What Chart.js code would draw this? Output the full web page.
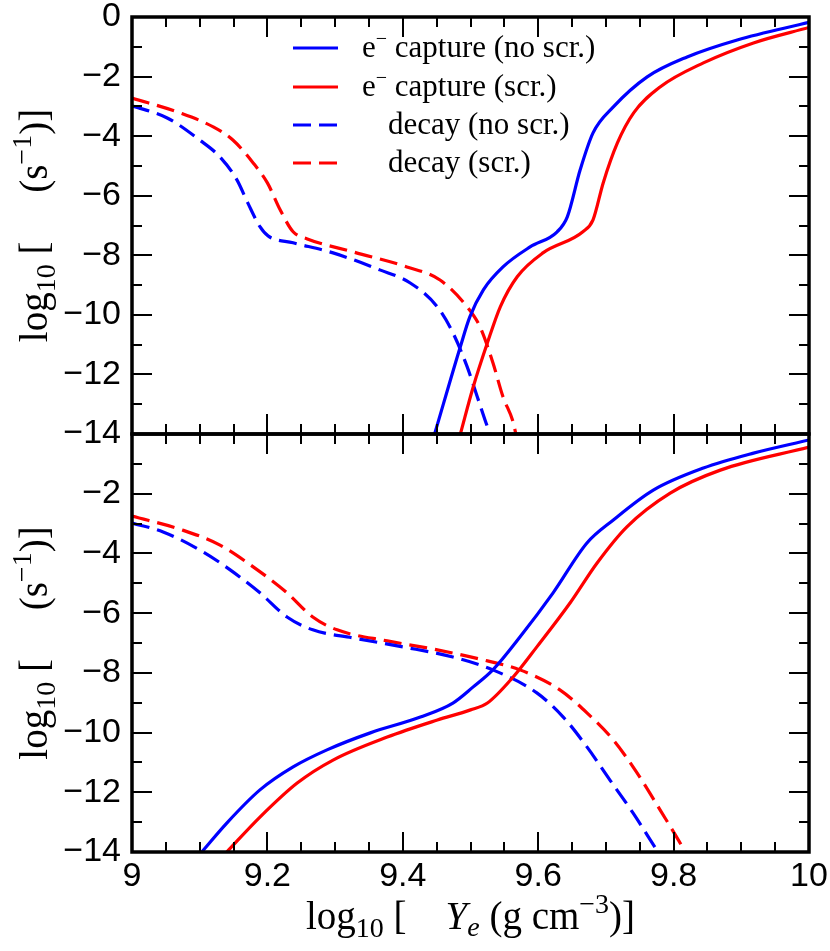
<!DOCTYPE html>
<html>
<head>
<meta charset="utf-8">
<script src="https://cdn.jsdelivr.net/npm/chart.js@4.4.1/dist/chart.umd.min.js"></script>
<style>
  html, body { margin: 0; padding: 0; background: #fff; }
  #wrap { position: relative; width: 830px; height: 951px; }
  #wrap canvas { position: absolute; left: 0; top: 0; }
</style>
</head>
<body>
<div id="wrap">
  <canvas id="topChart" width="830" height="951"></canvas>
  <canvas id="bottomChart" width="830" height="951"></canvas>
</div>
<script>
// Ejes
const xTickLabels = [9, 9.2, 9.4, 9.6, 9.8, 10];
const yTickLabels = [0, -2, -4, -6, -8, -10, -12, -14];

// Leyenda (e⁻ se dibuja con superíndice)
const legendLabels = ['capture (no scr.)', 'capture (scr.)', 'decay (no scr.)', 'decay (scr.)'];
const legendPrefix = ['e', 'e', '', ''];

// Panel superior
const topCapNoScrX = [9.447, 9.485, 9.499, 9.519, 9.548, 9.588, 9.628, 9.643, 9.662, 9.681, 9.711, 9.761, 9.820, 9.894, 10.0];
const topCapNoScrY = [-14.0, -11.07, -10.07, -9.16, -8.39, -7.72, -7.21, -6.71, -5.13, -3.89, -3.02, -2.01, -1.34, -0.77, -0.18];
const topCapScrX = [9.485, 9.504, 9.525, 9.544, 9.569, 9.607, 9.666, 9.681, 9.696, 9.717, 9.741, 9.780, 9.844, 9.918, 10.0];
const topCapScrY = [-14.0, -12.42, -10.94, -9.73, -8.72, -7.92, -7.21, -6.81, -5.57, -4.23, -3.22, -2.35, -1.54, -0.87, -0.35];
const topDecNoScrX = [9.0, 9.052, 9.100, 9.130, 9.155, 9.171, 9.189, 9.201, 9.238, 9.297, 9.366, 9.411, 9.451, 9.474, 9.495, 9.510, 9.525, 9.529];
const topDecNoScrY = [-2.98, -3.39, -4.13, -4.70, -5.47, -6.24, -7.04, -7.35, -7.58, -7.92, -8.49, -8.93, -9.73, -10.6, -11.74, -12.75, -13.76, -14.0];
const topDecScrX = [9.0, 9.071, 9.120, 9.149, 9.179, 9.200, 9.219, 9.238, 9.259, 9.327, 9.406, 9.455, 9.495, 9.514, 9.533, 9.548, 9.563, 9.567];
const topDecScrY = [-2.72, -3.22, -3.69, -4.13, -4.90, -5.57, -6.48, -7.21, -7.45, -7.89, -8.39, -8.83, -9.73, -10.4, -11.6, -12.75, -13.6, -14.0];

// Panel inferior
const botCapNoScrX = [9.103, 9.140, 9.189, 9.238, 9.288, 9.352, 9.426, 9.474, 9.504, 9.533, 9.573, 9.622, 9.672, 9.711, 9.770, 9.844, 9.918, 10.0];
const botCapNoScrY = [-14.0, -13.03, -11.92, -11.15, -10.58, -10.01, -9.48, -9.01, -8.47, -7.90, -6.80, -5.32, -3.65, -2.88, -1.88, -1.14, -0.64, -0.20];
const botCapScrX = [9.140, 9.189, 9.244, 9.297, 9.377, 9.451, 9.500, 9.525, 9.563, 9.598, 9.647, 9.687, 9.731, 9.795, 9.869, 10.0];
const botCapScrY = [-14.0, -12.83, -11.69, -10.92, -10.15, -9.58, -9.24, -9.01, -8.14, -7.13, -5.66, -4.32, -3.11, -1.98, -1.21, -0.44];
const botDecNoScrX = [9.0, 9.046, 9.105, 9.145, 9.189, 9.229, 9.267, 9.327, 9.400, 9.474, 9.533, 9.598, 9.637, 9.672, 9.706, 9.740, 9.773, 9.777];
const botDecNoScrY = [-2.98, -3.28, -3.95, -4.55, -5.32, -6.13, -6.56, -6.83, -7.13, -7.47, -7.90, -8.67, -9.48, -10.48, -11.59, -12.69, -13.86, -14.0];
const botDecScrX = [9.0, 9.075, 9.130, 9.179, 9.229, 9.267, 9.303, 9.377, 9.451, 9.525, 9.573, 9.632, 9.672, 9.711, 9.746, 9.780, 9.813, 9.817];
const botDecScrY = [-2.75, -3.22, -3.72, -4.45, -5.32, -6.13, -6.56, -6.93, -7.23, -7.60, -7.90, -8.57, -9.34, -10.25, -11.35, -12.59, -13.83, -14.0];

const AZUL = '#0000ff';
const ROJO = '#ff0000';
const SERIF = '"Liberation Serif", "Times New Roman", serif';
const SANS = '"Liberation Sans", Arial, sans-serif';

function puntos(xs, ys) {
    return xs.map((x, i) => ({ x: x, y: ys[i] }));
}

function serie(label, xs, ys, color, dashed) {
    return {
        label: label,
        data: puntos(xs, ys),
        borderColor: color,
        borderWidth: 3.2,
        borderDash: dashed ? [18, 8] : [],
        pointRadius: 0,
        fill: false,
        cubicInterpolationMode: 'monotone'
    };
}

function menos(v) {
    return v < 0 ? '\u2212' + Math.abs(v) : String(v);
}

// Texto con subíndices / superíndices
function anchoRuns(ctx, runs) {
    let w = 0;
    runs.forEach(r => {
        ctx.font = (r.italic ? 'italic ' : '') + r.size + 'px ' + SERIF;
        w += ctx.measureText(r.t).width;
    });
    return w;
}

function dibujarRuns(ctx, runs, x, y) {
    let cx = x;
    runs.forEach(r => {
        ctx.font = (r.italic ? 'italic ' : '') + r.size + 'px ' + SERIF;
        ctx.fillText(r.t, cx, y + (r.dy || 0));
        cx += ctx.measureText(r.t).width;
    });
}

const yTitulo = [
    { t: 'log', size: 39 }, { t: '10', size: 28, dy: 8 }, { t: ' [', size: 39 },
    { t: '     (s', size: 39 }, { t: '\u22121', size: 28, dy: -16 }, { t: ')]', size: 39 }
];
const xTitulo = [
    { t: 'log', size: 39 }, { t: '10', size: 28, dy: 8 }, { t: ' [    ', size: 39 },
    { t: 'Y', size: 39, italic: true }, { t: 'e', size: 28, dy: 7, italic: true },
    { t: ' (g cm', size: 39 }, { t: '\u22123', size: 28, dy: -16 }, { t: ')]', size: 39 }
];

const marcoPlugin = {
    id: 'marco',
    afterDatasetsDraw(chart, args, opts) {
        const { ctx, chartArea: a, scales: { x, y } } = chart;
        ctx.save();
        ctx.strokeStyle = '#000';
        ctx.lineWidth = 2;
        ctx.beginPath();
        // marcas en x (cada 0.05, mayores cada 0.2)
        for (let i = 0; i <= 20; i++) {
            const px = Math.round(x.getPixelForValue(9 + i * 0.05));
            const len = i % 4 === 0 ? 20 : 10;
            ctx.moveTo(px, a.bottom); ctx.lineTo(px, a.bottom - len);
            ctx.moveTo(px, a.top); ctx.lineTo(px, a.top + len);
        }
        // marcas en y (cada 1, mayores cada 2)
        for (let v = 0; v >= -14; v--) {
            const py = Math.round(y.getPixelForValue(v));
            const len = v % 2 === 0 ? 20 : 10;
            ctx.moveTo(a.left, py); ctx.lineTo(a.left + len, py);
            ctx.moveTo(a.right, py); ctx.lineTo(a.right - len, py);
        }
        ctx.stroke();
        ctx.lineWidth = 3.5;
        ctx.strokeRect(a.left, a.top, a.right - a.left, a.bottom - a.top);

        ctx.fillStyle = '#000';
        ctx.textBaseline = 'alphabetic';
        ctx.textAlign = 'left';

        // título eje y
        const cy = (a.top + a.bottom) / 2;
        ctx.save();
        ctx.translate(47, cy);
        ctx.rotate(-Math.PI / 2);
        dibujarRuns(ctx, yTitulo, -anchoRuns(ctx, yTitulo) / 2, 0);
        ctx.restore();

        if (opts.top) {
            // leyenda
            const filas = [48, 87, 125, 163];
            chart.data.datasets.forEach((d, i) => {
                const fy = filas[i];
                ctx.strokeStyle = d.borderColor;
                ctx.lineWidth = 3;
                ctx.setLineDash(d.borderDash);
                ctx.beginPath();
                ctx.moveTo(293, fy); ctx.lineTo(338, fy);
                ctx.stroke();
                ctx.setLineDash([]);
                if (legendPrefix[i]) {
                    dibujarRuns(ctx, [
                        { t: legendPrefix[i], size: 31 }, { t: '\u2212', size: 20, dy: -12 },
                        { t: ' ' + legendLabels[i], size: 31 }
                    ], 362, fy + 9);
                } else {
                    dibujarRuns(ctx, [{ t: legendLabels[i], size: 31 }], 388, fy + 9);
                }
            });
        } else {
            // título eje x
            const cx = (a.left + a.right) / 2;
            dibujarRuns(ctx, xTitulo, cx - anchoRuns(ctx, xTitulo) / 2, 929);
        }
        ctx.restore();
    }
};

function opciones(esArriba) {
    return {
        responsive: false,
        animation: false,
        events: [],
        layout: { padding: { left: 0, right: 21, top: esArriba ? 17 : 434, bottom: esArriba ? 517 : 0 } },
        plugins: {
            legend: { display: false },
            tooltip: { enabled: false },
            marco: { top: esArriba }
        },
        scales: {
            x: {
                type: 'linear', min: 9, max: 10,
                display: !esArriba,
                grid: { display: false, drawTicks: false },
                border: { display: false },
                afterBuildTicks: s => { s.ticks = xTickLabels.map(v => ({ value: v })); },
                afterFit: s => { s.height = esArriba ? 0 : 99; s.paddingLeft = 0; s.paddingRight = 0; },
                ticks: {
                    color: '#000', padding: 8, maxRotation: 0, autoSkip: false,
                    font: { family: SANS, size: 34, lineHeight: 1 },
                    callback: v => String(v)
                }
            },
            y: {
                type: 'linear', min: -14, max: 0,
                grid: { display: false, drawTicks: false },
                border: { display: false },
                afterBuildTicks: s => { s.ticks = yTickLabels.map(v => ({ value: v })); },
                afterFit: s => { s.width = 132; s.paddingTop = 0; s.paddingBottom = 0; },
                ticks: {
                    color: '#000', padding: 11, autoSkip: false,
                    font: { family: SANS, size: 34, lineHeight: 1 },
                    callback: v => (!esArriba && v === 0) ? '' : menos(v)
                }
            }
        }
    };
}

new Chart(document.getElementById('topChart').getContext('2d'), {
    type: 'line',
    data: {
        datasets: [
            serie('e- capture (no scr.)', topCapNoScrX, topCapNoScrY, AZUL, false),
            serie('e- capture (scr.)', topCapScrX, topCapScrY, ROJO, false),
            serie('decay (no scr.)', topDecNoScrX, topDecNoScrY, AZUL, true),
            serie('decay (scr.)', topDecScrX, topDecScrY, ROJO, true)
        ]
    },
    options: opciones(true),
    plugins: [marcoPlugin]
});

new Chart(document.getElementById('bottomChart').getContext('2d'), {
    type: 'line',
    data: {
        datasets: [
            serie('e- capture (no scr.)', botCapNoScrX, botCapNoScrY, AZUL, false),
            serie('e- capture (scr.)', botCapScrX, botCapScrY, ROJO, false),
            serie('decay (no scr.)', botDecNoScrX, botDecNoScrY, AZUL, true),
            serie('decay (scr.)', botDecScrX, botDecScrY, ROJO, true)
        ]
    },
    options: opciones(false),
    plugins: [marcoPlugin]
});
</script>
</body>
</html>
